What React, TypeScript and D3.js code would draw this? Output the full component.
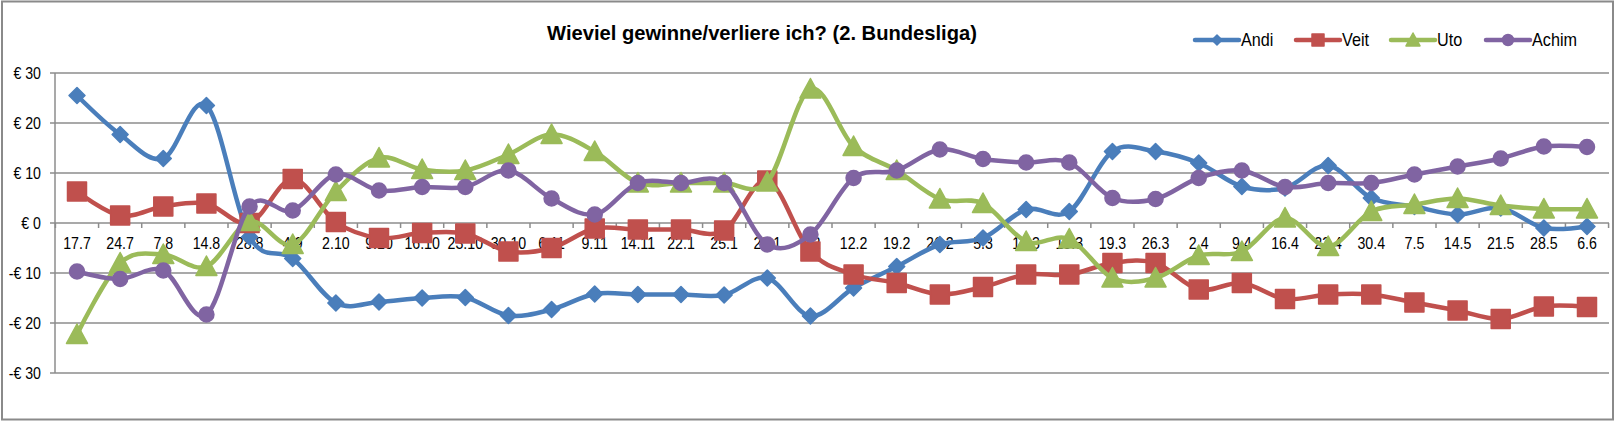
import * as d3 from 'd3'

const categories = [
  '17.7', '24.7', '7.8', '14.8', '28.8', '4.9', '2.10', '9.10', '16.10', '23.10',
  '30.10', '6.11', '9.11', '14.11', '22.1', '25.1', '29.1', '5.2', '12.2', '19.2',
  '26.2', '5.3', '12.3', '15.3', '19.3', '26.3', '2.4', '9.4', '16.4', '23.4',
  '30.4', '7.5', '14.5', '21.5', '28.5', '6.6',
]

const andi = [
  25.5, 17.7, 12.9, 23.5, -2.8, -7.1, -16, -15.8, -15, -14.9,
  -18.5, -17.3, -14.2, -14.3, -14.3, -14.4, -11, -18.6, -13, -8.7,
  -4.3, -3, 2.7, 2.3, 14.3, 14.3, 12, 7.3, 7, 11.5,
  5, 3.3, 1.7, 3, -1, -0.7,
]

const veit = [
  6.3, 1.5, 3.3, 3.9, 0, 8.8, 0.2, -3, -2, -2.1,
  -5.7, -5, -1.1, -1.3, -1.3, -1.5, 8.5, -5.7, -10.3, -12,
  -14.3, -12.8, -10.3, -10.3, -8, -8, -13.3, -12, -15.2, -14.3,
  -14.3, -15.9, -17.5, -19.2, -16.7, -16.8,
]

const uto = [
  -22.3, -8, -6.3, -8.7, 0.3, -4.3, 6.3, 13, 10.7, 10.5,
  13.7, 17.7, 14.3, 8, 8, 8, 8.2, 26.8, 15.3, 10.5,
  4.8, 3.9, -3.7, -3.2, -11, -11, -6.5, -5.7, 1, -4.7,
  2.3, 3.7, 4.9, 3.5, 2.8, 2.8,
]

const achim = [
  -9.7, -11.2, -9.5, -18.3, 3.3, 2.5, 9.7, 6.5, 7.2, 7.2,
  10.5, 4.9, 1.7, 8, 8, 8, -4.3, -2.3, 9, 10.5,
  14.7, 12.8, 12.1, 12.1, 5, 4.8, 9, 10.5, 7.2, 8,
  8, 9.7, 11.3, 12.9, 15.3, 15.2,
]

const yTicks = [30, 20, 10, 0, -10, -20, -30]

const series = [
  { name: 'Andi', values: andi, color: '#4a7ebb', marker: 'diamond' },
  { name: 'Veit', values: veit, color: '#c0504d', marker: 'square' },
  { name: 'Uto', values: uto, color: '#9bbb59', marker: 'triangle' },
  { name: 'Achim', values: achim, color: '#8064a2', marker: 'circle' },
]

const W = 1616
const H = 422
const plot = { left: 55, right: 1609, top: 73, bottom: 373 }
const font = '"Liberation Sans", Arial, sans-serif'
const gridColor = '#8c8c8c'

function markerPath(kind: string, s: number) {
  const h = s / 2
  if (kind === 'diamond') return `M0,${-h}L${h},0L0,${h}L${-h},0Z`
  if (kind === 'square') return `M${-h},${-h}H${h}V${h}H${-h}Z`
  if (kind === 'triangle') return `M0,${-h}L${h},${h * 0.85}L${-h},${h * 0.85}Z`
  return d3.symbol(d3.symbolCircle, Math.PI * h * h)() as string
}

const markerSize: Record<string, number> = { diamond: 16, square: 19, triangle: 21, circle: 15 }
const legendSize: Record<string, number> = { diamond: 10, square: 12, triangle: 14, circle: 11 }
const legendX = [1195, 1296, 1391, 1486]

// the original uses a narrower face, so the regular one gets squeezed a bit
function NText({ x, y, anchor = 'start', size, squeeze, bold = false, children }: {
  x: number, y: number, anchor?: string, size: number, squeeze: number, bold?: boolean, children: React.ReactNode
}) {
  return (
    <g transform={`translate(${x},${y}) scale(${squeeze},1)`}>
      <text x={0} y={0} dy="0.35em" textAnchor={anchor} fontFamily={font} fontSize={size}
        fontWeight={bold ? 'bold' : 'normal'} fill="#000">
        {children}
      </text>
    </g>
  )
}

export default function App() {
  const x = d3.scalePoint<string>().domain(categories).range([77, 1587])
  const y = d3.scaleLinear().domain([-30, 30]).range([plot.bottom, plot.top])
  const step = x.step()

  const line = d3.line<number>()
    .x((_, i) => x(categories[i])!)
    .y(d => y(d))
    .curve(d3.curveCardinal.tension(0))

  const boundaries = d3.range(categories.length + 1).map(i => 77 - step / 2 + i * step)

  return (
    <>
      <style>{'body{margin:0}'}</style>
      <svg width={W} height={H} style={{ display: 'block' }}>
        <rect x={0} y={0} width={W} height={H} fill="#fff" />
        <rect x={2} y={1.5} width={1611} height={418} fill="none" stroke="#8a8a8a" strokeWidth={2} />

        <NText x={762} y={33} anchor="middle" size={21} squeeze={0.96} bold>
          Wieviel gewinne/verliere ich? (2. Bundesliga)
        </NText>

        {/* grid */}
        {yTicks.map(t => (
          <g key={t}>
            <line x1={plot.left} x2={plot.right} y1={y(t)} y2={y(t)} stroke={gridColor} strokeWidth={1.5} />
            <line x1={50} x2={plot.left} y1={y(t)} y2={y(t)} stroke={gridColor} strokeWidth={1.5} />
            <NText x={41} y={y(t)} anchor="end" size={16.5} squeeze={0.86}>
              {t < 0 ? `-€ ${-t}` : `€ ${t}`}
            </NText>
          </g>
        ))}
        <line x1={plot.left} x2={plot.left} y1={plot.top} y2={plot.bottom} stroke={gridColor} strokeWidth={1.5} />

        {/* category axis on zero */}
        {boundaries.map((bx, i) => (
          <line key={i} x1={bx} x2={bx} y1={y(0)} y2={y(0) + 5} stroke={gridColor} strokeWidth={1.5} />
        ))}
        {categories.map(c => (
          <NText key={c} x={x(c)!} y={y(0) + 20} anchor="middle" size={16.5} squeeze={0.86}>{c}</NText>
        ))}

        {series.map(s => (
          <g key={s.name}>
            <path d={line(s.values)!} fill="none" stroke={s.color} strokeWidth={4.5} strokeLinecap="round" strokeLinejoin="round" />
            {s.values.map((v, i) => (
              <path
                key={i}
                d={markerPath(s.marker, markerSize[s.marker])}
                transform={`translate(${x(categories[i])},${y(v)})`}
                fill={s.color}
                stroke={s.color}
                strokeWidth={1.5}
                strokeLinejoin="round"
              />
            ))}
          </g>
        ))}

        {/* legend */}
        {series.map((s, i) => (
          <g key={s.name} transform={`translate(${legendX[i]},40)`}>
            <line x1={0} x2={44} y1={0} y2={0} stroke={s.color} strokeWidth={4.5} strokeLinecap="round" />
            <path d={markerPath(s.marker, legendSize[s.marker])} transform="translate(22,0)" fill={s.color} stroke={s.color} strokeWidth={1.5} strokeLinejoin="round" />
            <NText x={46} y={0} size={18} squeeze={0.9}>{s.name}</NText>
          </g>
        ))}
      </svg>
    </>
  )
}
